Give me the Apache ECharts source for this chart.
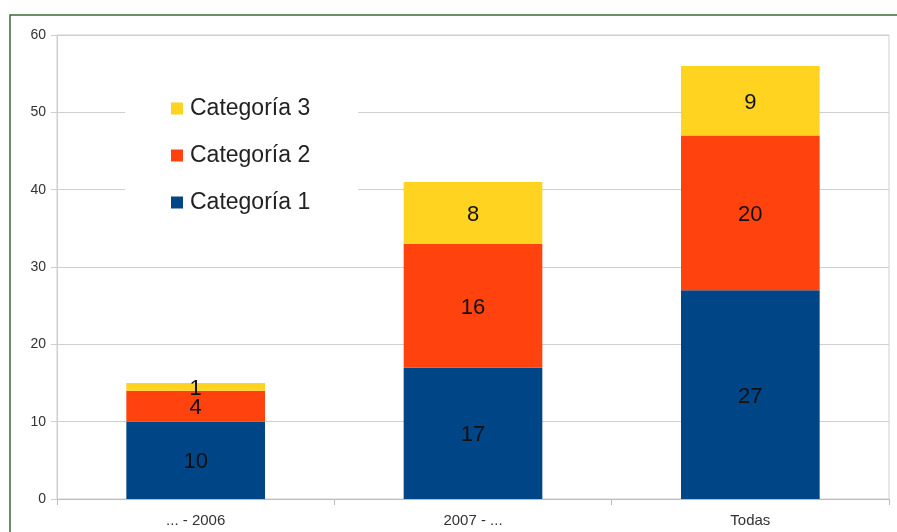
<!DOCTYPE html>
<html>
<head>
<meta charset="utf-8">
<script src="https://cdn.jsdelivr.net/npm/echarts@6/dist/echarts.min.js"></script>
<style>
  html, body { margin: 0; padding: 0; background: #fff; }
  #chart { width: 897px; height: 532px; }
</style>
</head>
<body>
<div id="chart"></div>
<script>
// Periods on the x axis
const periods = ['... - 2006', '2007 - ...', 'Todas'];
// Stacked counts per category
const cat1 = [10, 17, 27];
const cat2 = [4, 16, 20];
const cat3 = [1, 8, 9];
const seriesNames = ['Categoría 1', 'Categoría 2', 'Categoría 3'];
const colors = ['#004586', '#ff420e', '#ffd320'];

const chart = echarts.init(document.getElementById('chart'), null, { renderer: 'canvas' });

const labelStyle = {
  show: true,
  position: 'inside',
  offset: [0, 2],
  color: '#111',
  fontSize: 22,
  fontFamily: 'Liberation Sans'
};

function makeSeries(name, data, color) {
  return {
    name: name,
    type: 'bar',
    stack: 'total',
    data: data,
    barWidth: '50%',
    itemStyle: { color: color },
    label: labelStyle,
    emphasis: { disabled: true }
  };
}

chart.setOption({
  animation: false,
  color: colors,
  textStyle: { fontFamily: 'Liberation Sans' },
  graphic: [{
    type: 'rect',
    shape: { x: 10, y: 15, width: 900, height: 540 },
    style: { fill: 'none', stroke: '#3d6a35', lineWidth: 1.5 },
    z: 100
  }],
  grid: {
    left: 57, right: 8, top: 35, bottom: 33,
    show: true,
    borderColor: '#cfcfcf',
    borderWidth: 1
  },
  legend: {
    data: ['Categoría 3', 'Categoría 2', 'Categoría 1'],
    orient: 'vertical',
    left: 125,
    top: 85,
    itemWidth: 12,
    itemHeight: 12,
    itemGap: 24,
    icon: 'rect',
    backgroundColor: '#fff',
    padding: [12, 48, 12, 46],
    textStyle: { fontSize: 23, color: '#222', fontFamily: 'Liberation Sans', padding: [0, 0, 0, 2] },
    z: 10
  },
  xAxis: {
    type: 'category',
    data: periods,
    axisLine: { lineStyle: { color: '#bdbdbd' } },
    axisTick: { show: true, length: 6, lineStyle: { color: '#bdbdbd' } },
    axisLabel: { color: '#333', fontSize: 15, margin: 14 }
  },
  yAxis: {
    type: 'value',
    min: 0, max: 60, interval: 10,
    axisLine: { show: true, lineStyle: { color: '#cfcfcf' } },
    axisTick: { show: true, length: 6, lineStyle: { color: '#cfcfcf' } },
    axisLabel: { color: '#333', fontSize: 14, margin: 11 },
    splitLine: { lineStyle: { color: '#cfcfcf' } }
  },
  series: [
    makeSeries(seriesNames[0], cat1, colors[0]),
    makeSeries(seriesNames[1], cat2, colors[1]),
    makeSeries(seriesNames[2], cat3, colors[2])
  ]
});
</script>
</body>
</html>
